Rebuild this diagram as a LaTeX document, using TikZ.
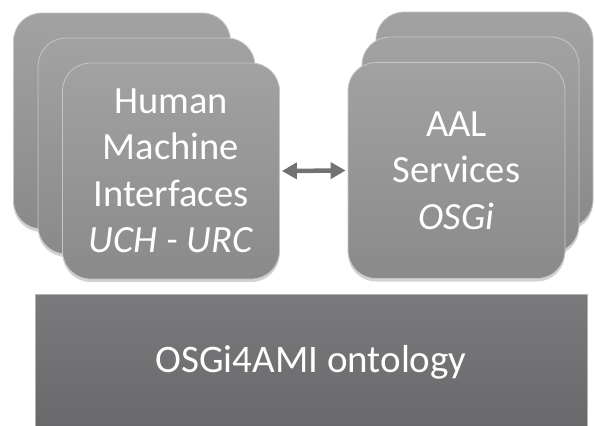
\documentclass[tikz,border=0pt]{standalone}
\usepackage{fontspec}
\setmainfont{Carlito}
\usetikzlibrary{arrows.meta,shadows}
\definecolor{cardtop}{HTML}{A2A2A2}
\definecolor{cardbot}{HTML}{8A8A8A}
\definecolor{bartop}{HTML}{7A7A7C}
\definecolor{barbot}{HTML}{69696B}
\definecolor{arrgray}{HTML}{727272}
\tikzset{
  card/.style={rectangle,rounded corners=28pt,minimum width=217pt,minimum height=216pt,
    top color=cardtop,bottom color=cardbot,draw=gray!45,line width=0.8pt,
    drop shadow={opacity=0.35,shadow xshift=0pt,shadow yshift=-3pt},
    text=white,align=center,font=\fontsize{38.5}{46.5}\selectfont,inner sep=0pt},
  bar/.style={rectangle,minimum width=552pt,minimum height=136pt,
    top color=bartop,bottom color=barbot,draw=gray!60,line width=0.8pt,
    text=white,font=\fontsize{39}{46.5}\selectfont},
  link/.style={{Triangle[length=15pt,width=16pt]}-{Triangle[length=15pt,width=16pt]},
    line width=4.5pt,draw=arrgray}
}
\begin{document}
\begin{tikzpicture}[x=1pt,y=-1pt]
\useasboundingbox (0,0) rectangle (595,426);
\node[card] (hmiback) at (122,121) {};
\node[card] (hmimid) at (146.5,146) {};
\node[card] (hmi) at (171,171) {Human\\Machine\\Interfaces\\\textit{UCH - URC}};
\node[card] (aalback) at (484.5,120) {};
\node[card] (aalmid) at (470.5,145) {};
\node[card] (aal) at (456.5,170.5) {AAL\\Services\\\textit{OSGi}};
\node[bar] (onto) at (311,362) {OSGi4AMI ontology};
\draw[link] ([xshift=2pt]hmi.east) -- ([xshift=-2pt]aal.west);
\end{tikzpicture}
\end{document}
